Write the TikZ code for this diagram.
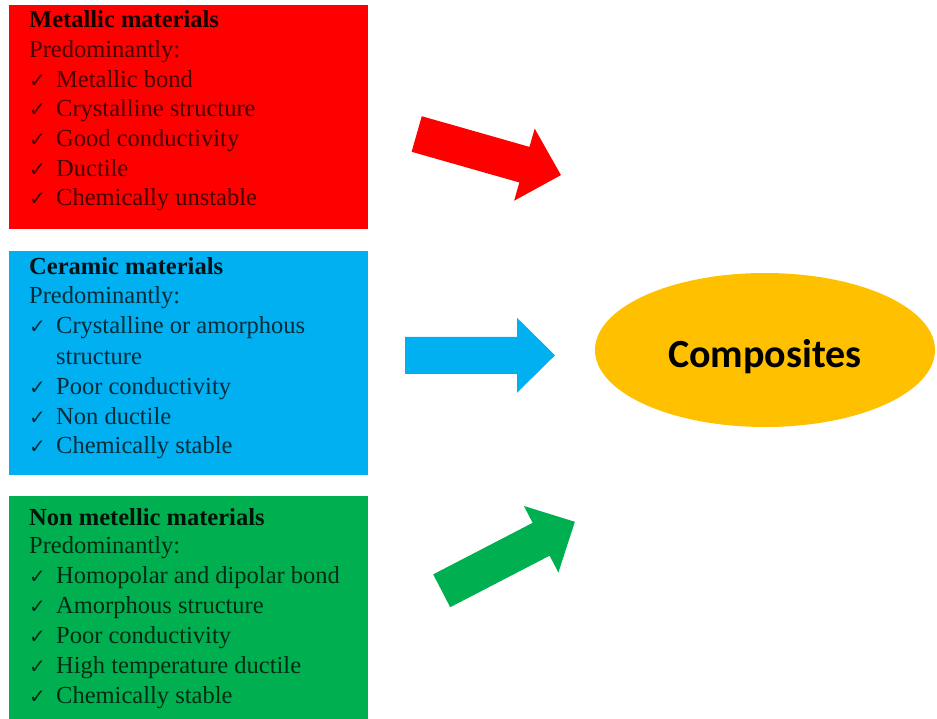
\documentclass[tikz,border=0pt]{standalone}
\usepackage{fontspec}
\setmainfont{Liberation Serif}
\newfontfamily\chkfont{DejaVu Sans}
\newfontfamily\calfont{Carlito}
\usetikzlibrary{shapes.geometric}
\definecolor{mred}{HTML}{FF0000}
\definecolor{mblue}{HTML}{00B0F0}
\definecolor{mgreen}{HTML}{00B050}
\definecolor{mgold}{HTML}{FFC000}
\newcommand{\ck}{\makebox[27pt][l]{\chkfont\fontsize{20}{20}\selectfont ✓}}
\tikzset{
  matbox/.style={rectangle, inner sep=0pt, anchor=north west, minimum width=359pt},
  txt/.style={anchor=base west, inner sep=0pt, font=\fontsize{24.5}{29}\selectfont},
  fatarrow/.pic={\fill[pic actions] (0,-18.5) -- (112,-18.5) -- (112,-37.5) -- (150,0) -- (112,37.5) -- (112,18.5) -- (0,18.5) -- cycle;}
}
\begin{document}
\begin{tikzpicture}[x=1pt,y=-1pt]
\useasboundingbox (0,0) rectangle (937,719);
% boxes
\node[matbox, fill=mred, minimum height=224pt] (bm) at (9,5) {};
\node[matbox, fill=mblue, minimum height=224pt] (bc) at (9,251) {};
\node[matbox, fill=mgreen, minimum height=223pt] (bn) at (9,496) {};
% metallic
\begin{scope}[every node/.append style={text=black!72!mred}]
\node[txt, text=black!90!mred] (m0) at (29,28) {\textbf{Metallic materials}};
\node[txt] (m1) at (29,58) {Predominantly:};
\node[txt] (m2) at (29,87.5) {\ck Metallic bond};
\node[txt] (m3) at (29,117) {\ck Crystalline structure};
\node[txt] (m4) at (29,147) {\ck Good conductivity};
\node[txt] (m5) at (29,177) {\ck Ductile};
\node[txt] (m6) at (29,206) {\ck Chemically unstable};
\end{scope}
% ceramic
\begin{scope}[every node/.append style={text=black!75!mblue}]
\node[txt, text=black!90!mblue] (c0) at (29,275) {\textbf{Ceramic materials}};
\node[txt] (c1) at (29,304) {Predominantly:};
\node[txt] (c2) at (29,334) {\ck Crystalline or amorphous};
\node[txt] (c3) at (56,364) {structure};
\node[txt] (c4) at (29,394) {\ck Poor conductivity};
\node[txt] (c5) at (29,424) {\ck Non ductile};
\node[txt] (c6) at (29,453) {\ck Chemically stable};
\end{scope}
% non metallic
\begin{scope}[every node/.append style={text=black!75!mgreen}]
\node[txt, text=black!90!mgreen] (n0) at (29,525) {\textbf{Non metellic materials}};
\node[txt] (n1) at (29,553) {Predominantly:};
\node[txt] (n2) at (29,583) {\ck Homopolar and dipolar bond};
\node[txt] (n3) at (29,613) {\ck Amorphous structure};
\node[txt] (n4) at (29,643) {\ck Poor conductivity};
\node[txt] (n5) at (29,673) {\ck High temperature ductile};
\node[txt] (n6) at (29,703) {\ck Chemically stable};
\end{scope}
% composites
\node[ellipse, fill=mgold, inner sep=0pt, minimum width=340pt, minimum height=154pt] (comp) at (765,350) {};
\node[anchor=base, inner sep=0pt, font=\calfont\bfseries\fontsize{40}{40}\selectfont] (compt) at (765,367) {Composites};
% arrows
\pic[fill=mred, rotate=-15.9] at (416.7,134) {fatarrow};
\pic[fill=mblue] at (405,355.3) {fatarrow};
\pic[fill=mgreen, rotate=27.4] at (441.7,590.8) {fatarrow};
\end{tikzpicture}
\end{document}
